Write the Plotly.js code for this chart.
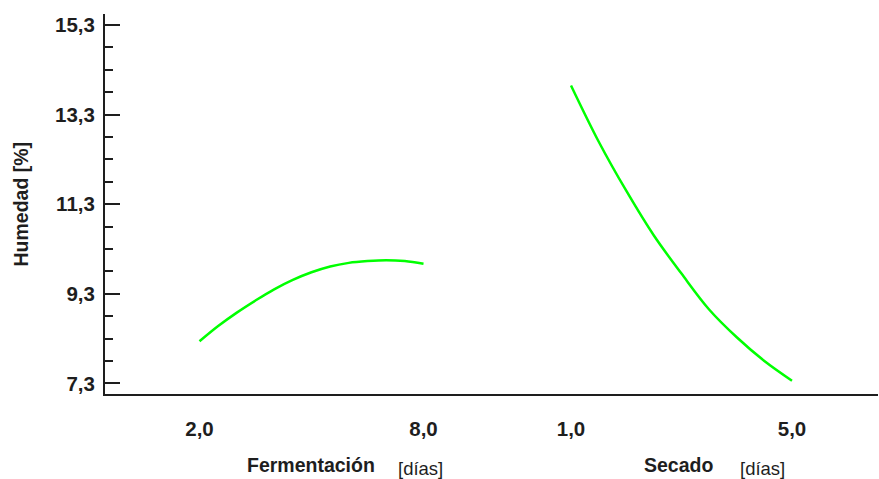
<!DOCTYPE html>
<html>
<head>
<meta charset="utf-8">
<script src="https://cdn.plot.ly/plotly-3.0.1.min.js"></script>
<style>html,body{margin:0;padding:0;background:#fff;}#chart{width:879px;height:479px;}</style>
</head>
<body>
<div id="chart"></div>
<script>
// Fermentación (días) vs Humedad [%]
const fermDias = [2.0, 2.5, 3.0, 3.5, 4.0, 4.5, 5.0, 5.5, 6.0, 6.5, 7.0, 7.5, 8.0];
const fermHumedad = [8.24, 8.58, 8.88, 9.15, 9.40, 9.61, 9.78, 9.91, 9.99, 10.03, 10.05, 10.03, 9.97];
// Secado (días) vs Humedad [%]
const secDias = [1.0, 1.5, 2.0, 2.5, 3.0, 3.5, 4.0, 4.5, 5.0];
const secHumedad = [13.95, 12.70, 11.60, 10.60, 9.75, 8.95, 8.33, 7.80, 7.36];
const fermTicks = [2, 8];
const secTicks = [1, 5];
const factorNames = ['Fermentación', 'Secado'];
const unitLabel = '[días]';
const yTitle = 'Humedad [%]';

const green = '#00ff00';
const ink = '#1e1e1e';
const fam = 'Liberation Sans, Arial, sans-serif';

const traces = [
  {x: fermDias, y: fermHumedad, xaxis: 'x', yaxis: 'y', mode: 'lines',
   line: {color: green, width: 2.5, shape: 'spline'}, showlegend: false, hoverinfo: 'skip'},
  {x: secDias, y: secHumedad, xaxis: 'x2', yaxis: 'y', mode: 'lines',
   line: {color: green, width: 2.5, shape: 'spline'}, showlegend: false, hoverinfo: 'skip'}
];

const xCommon = {
  showgrid: false, zeroline: false, showline: true, linecolor: ink, linewidth: 2,
  ticks: '', tickformat: '.1f', tickmode: 'array',
  tickfont: {family: fam, size: 20.5, weight: 'bold', color: ink},
  ticklabelstandoff: 15, anchor: 'y', fixedrange: true
};

const layout = {
  width: 879, height: 479,
  margin: {l: 105, r: 1, t: 14, b: 85},
  paper_bgcolor: '#ffffff', plot_bgcolor: '#ffffff',
  separators: ',.',
  showlegend: false,
  xaxis: Object.assign({}, xCommon, {domain: [0, 0.5], range: [-0.531, 9.821], tickvals: fermTicks}),
  xaxis2: Object.assign({}, xCommon, {domain: [0.5, 1], range: [-0.439, 6.557], tickvals: secTicks}),
  yaxis: {
    range: [7.063, 15.545], showgrid: false, zeroline: false,
    showline: true, linecolor: ink, linewidth: 2,
    tickmode: 'linear', tick0: 7.3, dtick: 2, tickformat: '.1f',
    ticks: 'inside', ticklen: 15, tickwidth: 2, tickcolor: ink,
    minor: {tick0: 7.3, dtick: 0.5, ticks: 'inside', ticklen: 8, tickwidth: 2, tickcolor: ink, showgrid: false},
    tickfont: {family: fam, size: 20.5, weight: 'bold', color: ink},
    ticklabelstandoff: 4, fixedrange: true
  },
  annotations: [
    {xref: 'paper', yref: 'paper', x: 0, y: 0.5, xshift: -84.5, text: yTitle, textangle: -90,
     showarrow: false, xanchor: 'center', yanchor: 'middle',
     font: {family: fam, size: 19.5, weight: 'bold', color: ink}},
    {xref: 'x', yref: 'paper', x: 5.0, y: 0, xshift: -1, yshift: -71, text: factorNames[0],
     showarrow: false, xanchor: 'center', yanchor: 'middle',
     font: {family: fam, size: 19.5, weight: 'bold', color: ink}},
    {xref: 'x', yref: 'paper', x: 7.92, y: 0, yshift: -74, text: unitLabel,
     showarrow: false, xanchor: 'center', yanchor: 'middle',
     font: {family: fam, size: 18.5, color: ink}},
    {xref: 'x2', yref: 'paper', x: 2.94, y: 0, yshift: -71, text: factorNames[1],
     showarrow: false, xanchor: 'center', yanchor: 'middle',
     font: {family: fam, size: 19.5, weight: 'bold', color: ink}},
    {xref: 'x2', yref: 'paper', x: 4.47, y: 0, yshift: -74, text: unitLabel,
     showarrow: false, xanchor: 'center', yanchor: 'middle',
     font: {family: fam, size: 18.5, color: ink}}
  ]
};

Plotly.newPlot('chart', traces, layout, {displayModeBar: false, staticPlot: true});
</script>
</body>
</html>
